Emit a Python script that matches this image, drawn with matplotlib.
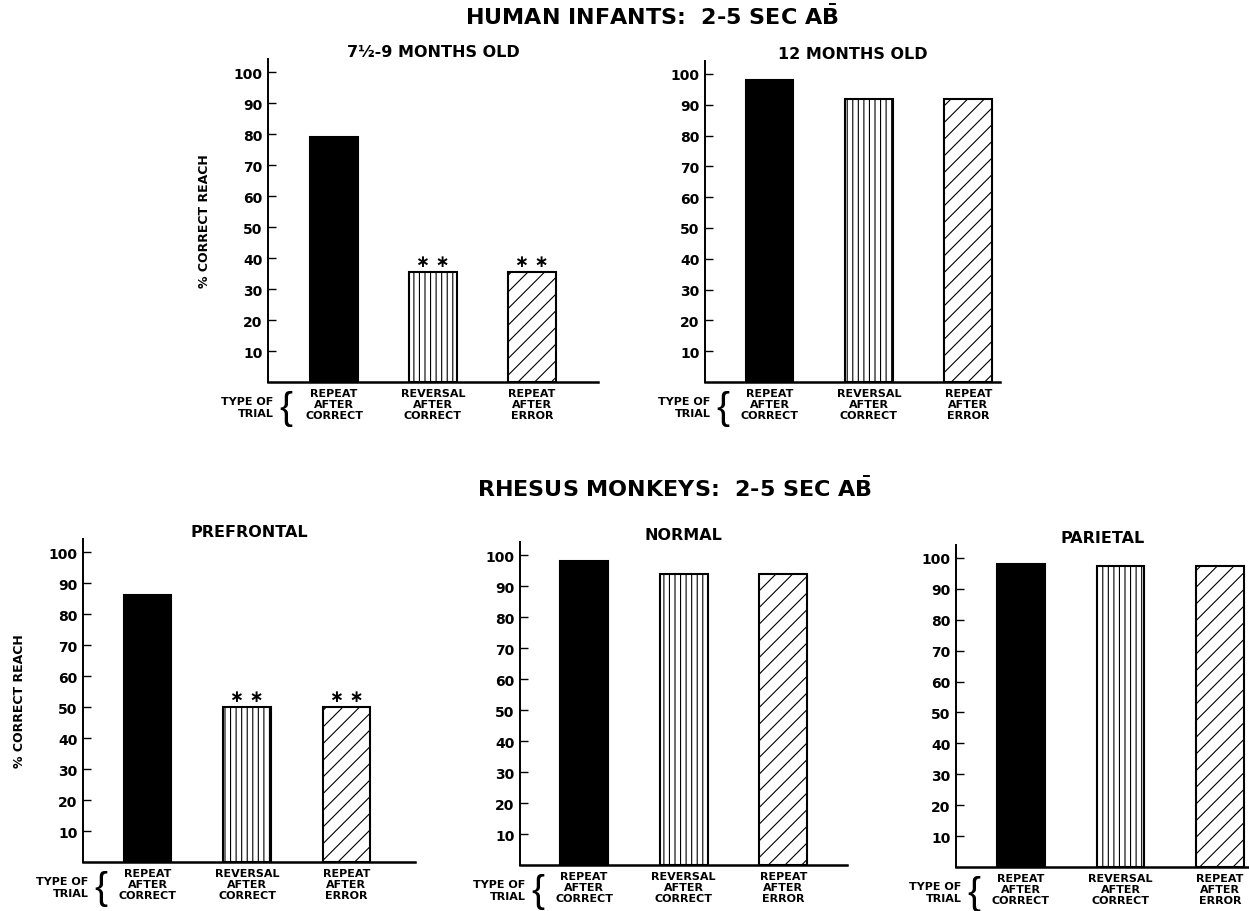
import numpy as np
import matplotlib
matplotlib.use('Agg')
import matplotlib.pyplot as plt

plt.rcParams['font.family'] = ['DejaVu Sans']
plt.rcParams['font.weight'] = 'bold'
plt.rcParams['mathtext.fontset'] = 'dejavusans'
plt.rcParams['hatch.linewidth'] = 0.8

# data (% correct reach)
trial_types = ['REPEAT\nAFTER\nCORRECT', 'REVERSAL\nAFTER\nCORRECT', 'REPEAT\nAFTER\nERROR']
infants_7_9 = [79, 35.5, 35.5]
infants_12 = [98, 92, 92]
prefrontal = [86, 50, 50]
normal = [98, 94, 94]
parietal = [98, 97.5, 97.5]
starred = [False, True, True]
yticks = list(range(10, 101, 10))

W, H = 1249, 912
fig = plt.figure(figsize=(W/100.0, H/100.0), dpi=100)

def make_axes(left, right, base, top):
    return fig.add_axes([left/W, 1 - base/H, (right - left)/W, (base - top)/H])

def draw_panel(ax, values, title, xlim, stars, ylabel):
    x = np.arange(len(values))
    ax.bar(x[0], values[0], 0.48, color='black', edgecolor='black', linewidth=1.5)
    ax.bar(x[1], values[1], 0.48, color='white', edgecolor='black', linewidth=1.5, hatch='|||')
    ax.bar(x[2], values[2], 0.48, color='white', edgecolor='black', linewidth=1.5, hatch='//')
    ax.set_xlim(xlim)
    ax.set_ylim(0, 104.2)
    for s in ['top', 'right']:
        ax.spines[s].set_visible(False)
    ax.spines['left'].set_linewidth(1.4)
    ax.spines['bottom'].set_linewidth(1.8)
    ax.set_yticks(yticks)
    ax.set_yticklabels([str(t) for t in yticks], fontsize=10, fontweight='bold')
    ax.tick_params(axis='y', direction='in', length=6, width=1, pad=4)
    ax.set_xticks(x)
    ax.set_xticklabels(trial_types, fontsize=8, fontweight='bold', linespacing=1.17)
    ax.tick_params(axis='x', length=0, pad=4)
    ax.set_title(title, fontsize=11.5, fontweight='bold', pad=2)
    if stars:
        for xi, v, st in zip(x, values, starred):
            if st:
                ax.annotate('\u2217 \u2217', xy=(xi, v), xytext=(0, 8), textcoords='offset points',
                            ha='center', va='center', fontsize=12)
    ax.annotate('TYPE OF\nTRIAL', xy=(0, 0), xycoords='axes fraction', xytext=(4, -18),
                textcoords='offset points', ha='right', va='center', fontsize=8,
                fontweight='bold', linespacing=1.25)
    ax.annotate('{', xy=(0, 0), xycoords='axes fraction', xytext=(13, -19),
                textcoords='offset points', ha='center', va='center', fontsize=28,
                fontweight='normal', family='Liberation Sans')
    if ylabel:
        ax.set_ylabel('% CORRECT REACH', fontsize=9, fontweight='bold')
        w = ax.get_position().width * W
        ax.yaxis.set_label_coords(-57.0/w, 0.5)

ax = make_axes(268, 598, 383, 60)
draw_panel(ax, infants_7_9, '7\u00bd-9 MONTHS OLD', (-0.667, 2.667), True, True)
ax = make_axes(705, 1000, 383, 62)
draw_panel(ax, infants_12, '12 MONTHS OLD', (-0.65, 2.32), False, False)
ax = make_axes(83, 415, 863, 540)
draw_panel(ax, prefrontal, 'PREFRONTAL', (-0.65, 2.69), True, True)
ax = make_axes(520, 847, 866, 543)
draw_panel(ax, normal, 'NORMAL', (-0.643, 2.64), False, False)
ax = make_axes(956, 1249, 868, 546)
draw_panel(ax, parietal, 'PARIETAL', (-0.65, 2.29), False, False)

fig.text(652/W, 1 - 17/H, r'HUMAN INFANTS:  2-5 SEC A$\bar{\mathbf{B}}$', ha='center', va='center',
         fontsize=16, fontweight='bold')
fig.text(675/W, 1 - 489/H, r'RHESUS MONKEYS:  2-5 SEC A$\bar{\mathbf{B}}$', ha='center', va='center',
         fontsize=16, fontweight='bold')

plt.savefig('out.png', dpi=100)
